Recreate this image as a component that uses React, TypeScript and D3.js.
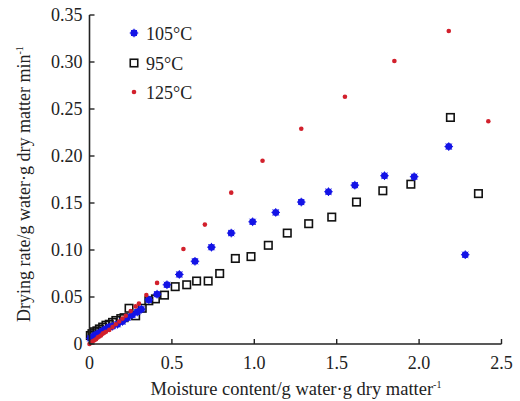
import React from "react";
import * as d3 from "d3";

const xTicks = [0, 0.5, 1.0, 1.5, 2.0, 2.5];
const xTickLabels = ["0", "0.5", "1.0", "1.5", "2.0", "2.5"];
const yTicks = [0, 0.05, 0.1, 0.15, 0.2, 0.25, 0.3, 0.35];
const yTickLabels = ["0", "0.05", "0.10", "0.15", "0.20", "0.25", "0.30", "0.35"];

const legendLabels = ["105\u00B0C", "95\u00B0C", "125\u00B0C"];

// 105 °C (blue stars)
const s105: [number, number][] = [
  [0.005, 0.006], [0.02, 0.008], [0.04, 0.01], [0.06, 0.012], [0.08, 0.014],
  [0.1, 0.016], [0.12, 0.018], [0.14, 0.019], [0.17, 0.021], [0.2, 0.024],
  [0.23, 0.028], [0.26, 0.031], [0.29, 0.034], [0.315, 0.037], [0.36, 0.047],
  [0.41, 0.053], [0.47, 0.063], [0.545, 0.074], [0.64, 0.088], [0.74, 0.103],
  [0.86, 0.118], [0.99, 0.13], [1.13, 0.14], [1.285, 0.151], [1.45, 0.162],
  [1.61, 0.169], [1.79, 0.179], [1.97, 0.178], [2.18, 0.21], [2.28, 0.095],
];

// 95 °C (black open squares)
const s95: [number, number][] = [
  [0.005, 0.009], [0.015, 0.011], [0.03, 0.013], [0.045, 0.014], [0.06, 0.016],
  [0.08, 0.018], [0.1, 0.02], [0.12, 0.021], [0.14, 0.023], [0.16, 0.025],
  [0.19, 0.027], [0.21, 0.028], [0.24, 0.038], [0.28, 0.03], [0.32, 0.038],
  [0.36, 0.046], [0.4, 0.048], [0.455, 0.052], [0.52, 0.061], [0.59, 0.063],
  [0.65, 0.067], [0.72, 0.067], [0.79, 0.075], [0.885, 0.091], [0.98, 0.093],
  [1.085, 0.105], [1.2, 0.118], [1.33, 0.128], [1.47, 0.135], [1.62, 0.151],
  [1.78, 0.163], [1.95, 0.17], [2.19, 0.241], [2.36, 0.16],
];

// 125 °C (red dots)
const s125: [number, number][] = [
  [0.0, 0.0], [0.01, 0.002], [0.02, 0.003], [0.03, 0.004], [0.04, 0.005],
  [0.05, 0.007], [0.06, 0.008], [0.07, 0.009], [0.08, 0.011], [0.09, 0.012],
  [0.1, 0.013], [0.12, 0.015], [0.14, 0.018], [0.16, 0.021], [0.18, 0.024],
  [0.2, 0.027], [0.22, 0.03], [0.25, 0.035], [0.28, 0.04], [0.3, 0.043],
  [0.345, 0.052], [0.41, 0.065], [0.57, 0.101], [0.7, 0.127], [0.86, 0.161],
  [1.05, 0.195], [1.285, 0.229], [1.55, 0.263], [1.85, 0.301], [2.18, 0.333],
  [2.42, 0.237],
];

const BLUE = "#1414e6";
const RED = "#d2202c";
const FONT = "'Liberation Serif', 'Times New Roman', serif";

const x = d3.scaleLinear().domain([0, 2.5]).range([89.5, 501.5]);
const y = d3.scaleLinear().domain([0, 0.35]).range([344, 15]);

function Star({ cx, cy }: { cx: number; cy: number }) {
  const r = 4.3;
  const lines = [0, 45, 90, 135].map((a) => {
    const rad = (a * Math.PI) / 180;
    return (
      <line
        key={a}
        x1={cx - r * Math.cos(rad)}
        y1={cy - r * Math.sin(rad)}
        x2={cx + r * Math.cos(rad)}
        y2={cy + r * Math.sin(rad)}
        stroke={BLUE}
        strokeWidth={1}
      />
    );
  });
  return (
    <g>
      <circle cx={cx} cy={cy} r={3.5} fill={BLUE} />
      {lines}
    </g>
  );
}

function Square({ cx, cy }: { cx: number; cy: number }) {
  const s = 7.5;
  return (
    <rect
      x={cx - s / 2}
      y={cy - s / 2}
      width={s}
      height={s}
      fill="white"
      fillOpacity={0}
      stroke="#111"
      strokeWidth={1.6}
    />
  );
}

function Dot({ cx, cy }: { cx: number; cy: number }) {
  return <circle cx={cx} cy={cy} r={2.3} fill={RED} />;
}

export default function App() {
  const x0 = x(0);
  const y0 = y(0);
  return (
    <svg
      width={520}
      height={401}
      style={{ position: "absolute", left: 0, top: 0, background: "white" }}
      fontFamily={FONT}
    >
      <rect width={520} height={401} fill="white" />
      {/* data */}
      {s95.map((d, i) => (
        <Square key={"b" + i} cx={x(d[0])} cy={y(d[1])} />
      ))}
      {s105.map((d, i) => (
        <Star key={"s" + i} cx={x(d[0])} cy={y(d[1])} />
      ))}
      {s125.map((d, i) => (
        <Dot key={"r" + i} cx={x(d[0])} cy={y(d[1])} />
      ))}

      {/* axes */}
      <line x1={x0} y1={y(0.35)} x2={x0} y2={y0} stroke="#222" strokeWidth={1.6} />
      <line x1={x0} y1={y0} x2={x(2.5)} y2={y0} stroke="#222" strokeWidth={1.6} />
      {yTicks.map((t, i) => (
        <g key={"yt" + i}>
          <line x1={x0} x2={x0 + 5} y1={y(t)} y2={y(t)} stroke="#222" strokeWidth={1.4} />
          <text
            x={x0 - 7}
            y={y(t)}
            dy="0.35em"
            textAnchor="end"
            fontSize={18}
            fill="#222"
          >
            {yTickLabels[i]}
          </text>
        </g>
      ))}
      {xTicks.map((t, i) => (
        <g key={"xt" + i}>
          <line x1={x(t)} x2={x(t)} y1={y0} y2={y0 - 5} stroke="#222" strokeWidth={1.4} />
          <text x={x(t)} y={369} textAnchor="middle" fontSize={18} fill="#222">
            {xTickLabels[i]}
          </text>
        </g>
      ))}

      {/* axis titles */}
      <text x={296} y={395} textAnchor="middle" fontSize={18.5} fill="#222">
        Moisture content/g water·g dry matter
        <tspan fontSize={10} dy={-7}>-1</tspan>
      </text>
      <text
        transform="translate(30,184) rotate(-90)"
        textAnchor="middle"
        fontSize={18}
        fill="#222"
      >
        Drying rate/g water·g dry matter min
        <tspan fontSize={10} dy={-7}>-1</tspan>
      </text>

      {/* legend */}
      <Star cx={134} cy={33} />
      <text x={146} y={39.5} fontSize={18} fill="#222">{legendLabels[0]}</text>
      <Square cx={134} cy={63} />
      <text x={146} y={69.5} fontSize={18} fill="#222">{legendLabels[1]}</text>
      <Dot cx={134} cy={92} />
      <text x={146} y={98.5} fontSize={18} fill="#222">{legendLabels[2]}</text>
    </svg>
  );
}
